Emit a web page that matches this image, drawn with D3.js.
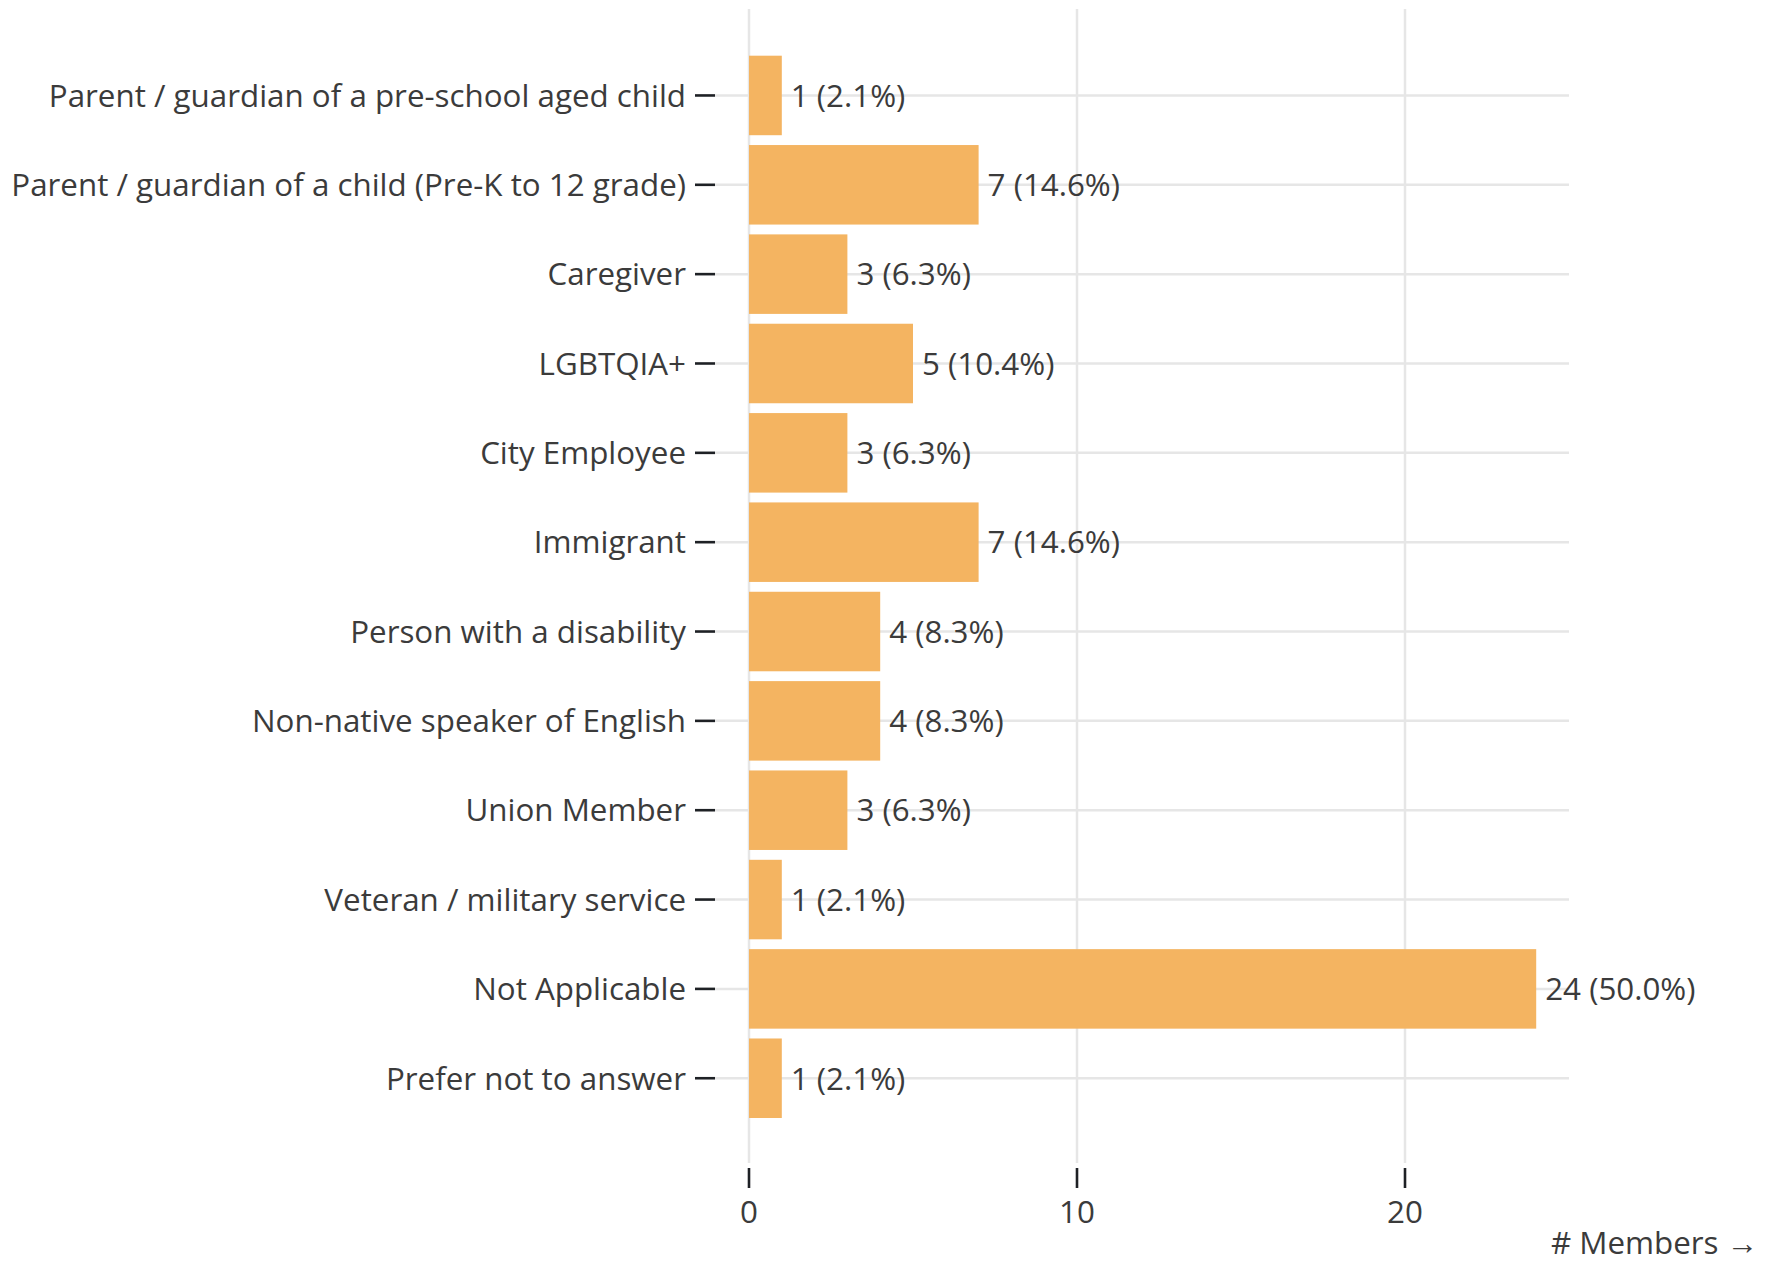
<!DOCTYPE html>
<html>
<head>
<meta charset="utf-8">
<script src="https://cdn.jsdelivr.net/npm/d3@7"></script>
<style>
  html, body { margin: 0; padding: 0; background: #fff; }
  svg { display: block; }
</style>
</head>
<body>
<div id="chart"></div>
<script>
const categories = [
  "Parent / guardian of a pre-school aged child",
  "Parent / guardian of a child (Pre-K to 12 grade)",
  "Caregiver",
  "LGBTQIA+",
  "City Employee",
  "Immigrant",
  "Person with a disability",
  "Non-native speaker of English",
  "Union Member",
  "Veteran / military service",
  "Not Applicable",
  "Prefer not to answer"
];
const counts = [1, 7, 3, 5, 3, 7, 4, 4, 3, 1, 24, 1];
const percents = [2.1, 14.6, 6.3, 10.4, 6.3, 14.6, 8.3, 8.3, 6.3, 2.1, 50.0, 2.1];
const xTicks = [0, 10, 20];
const xLabel = "# Members →";

const W = 1779, H = 1263;
const FONT = "'Open Sans', 'Noto Sans', sans-serif";
const textColor = "#3b3b3b";
const tickColor = "#1e2125";
const barColor = "#F4B461";
const gridColor = "#e6e6e6";

const svg = d3.select("#chart").append("svg")
  .attr("width", W).attr("height", H)
  .style("font-family", FONT);

// fit font size so the longest category label spans like the reference
const probe = svg.append("text").attr("font-size", 30).text(categories[1]);
const probeW = probe.node().getComputedTextLength();
probe.remove();
const FS = Math.max(26, Math.min(32, 30 * 675 / probeW));

const x = d3.scaleLinear().domain([0, 25]).range([749, 1569]);
const y = d3.scaleBand().domain(categories).range([55.7, 1118]).paddingInner(0.11).paddingOuter(0);

// vertical gridlines
svg.append("g").selectAll("line").data(xTicks).join("line")
  .attr("x1", d => x(d)).attr("x2", d => x(d))
  .attr("y1", 9).attr("y2", 1163)
  .attr("stroke", gridColor).attr("stroke-width", 2.5);

// horizontal gridlines
svg.append("g").selectAll("line").data(categories).join("line")
  .attr("x1", 715).attr("x2", x.range()[1])
  .attr("y1", d => y(d) + y.bandwidth() / 2).attr("y2", d => y(d) + y.bandwidth() / 2)
  .attr("stroke", gridColor).attr("stroke-width", 2.5);

// bars
svg.append("g").selectAll("rect").data(categories).join("rect")
  .attr("x", x(0))
  .attr("y", d => y(d))
  .attr("width", (d, i) => x(counts[i]) - x(0))
  .attr("height", y.bandwidth())
  .attr("fill", barColor);

// value labels
svg.append("g").selectAll("text").data(categories).join("text")
  .attr("x", (d, i) => x(counts[i]) + 9)
  .attr("y", d => y(d) + y.bandwidth() / 2)
  .attr("dy", "0.36em")
  .attr("font-size", FS)
  .attr("fill", textColor)
  .text((d, i) => `${counts[i]} (${percents[i].toFixed(1)}%)`);

// y axis ticks and labels
const yAxis = svg.append("g");
yAxis.selectAll("line").data(categories).join("line")
  .attr("x1", 695).attr("x2", 715)
  .attr("y1", d => y(d) + y.bandwidth() / 2).attr("y2", d => y(d) + y.bandwidth() / 2)
  .attr("stroke", tickColor).attr("stroke-width", 2.6);
yAxis.selectAll("text").data(categories).join("text")
  .attr("x", 686)
  .attr("y", d => y(d) + y.bandwidth() / 2)
  .attr("dy", "0.36em")
  .attr("text-anchor", "end")
  .attr("font-size", FS)
  .attr("fill", textColor)
  .text(d => d);

// x axis ticks and labels
const xAxis = svg.append("g");
xAxis.selectAll("line").data(xTicks).join("line")
  .attr("x1", d => x(d)).attr("x2", d => x(d))
  .attr("y1", 1168).attr("y2", 1188)
  .attr("stroke", tickColor).attr("stroke-width", 2.6);
xAxis.selectAll("text").data(xTicks).join("text")
  .attr("x", d => x(d))
  .attr("y", 1223)
  .attr("text-anchor", "middle")
  .attr("font-size", FS)
  .attr("fill", textColor)
  .text(d => d);

svg.append("text")
  .attr("x", 1758).attr("y", 1254)
  .attr("text-anchor", "end")
  .attr("font-size", FS)
  .attr("fill", textColor)
  .text(xLabel);
</script>
</body>
</html>
